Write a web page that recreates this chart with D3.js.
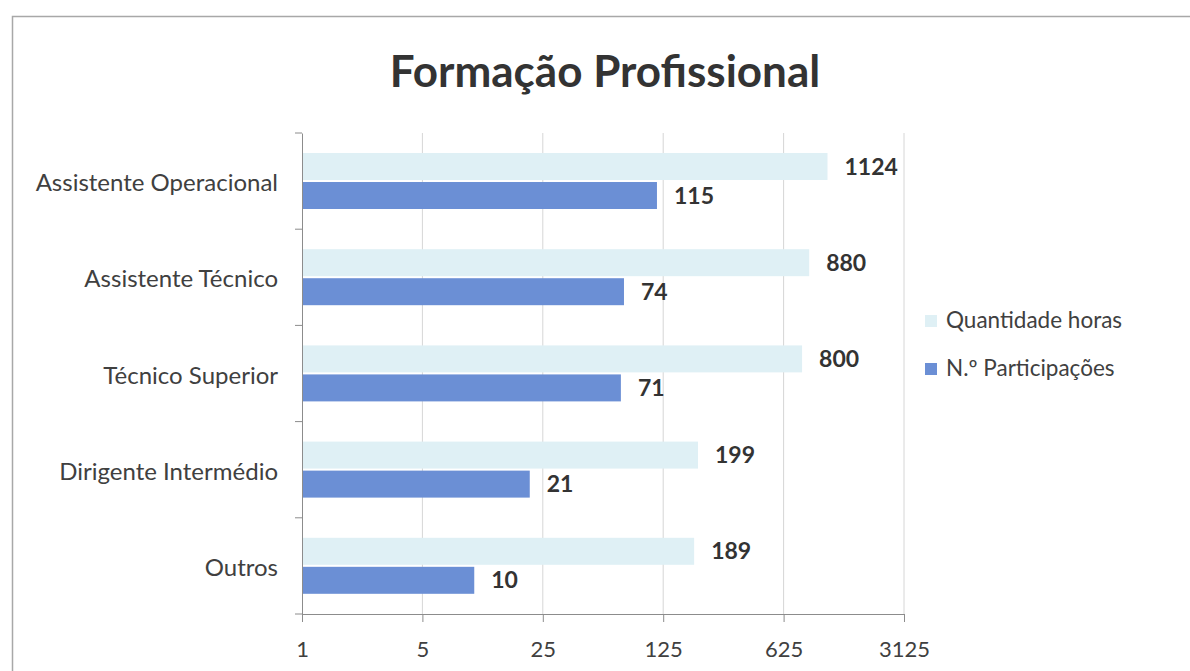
<!DOCTYPE html>
<html>
<head>
<meta charset="utf-8">
<script src="https://cdn.jsdelivr.net/npm/d3@7.9.0/dist/d3.min.js"></script>
<style>
  body { margin: 0; background: #fff; }
  svg { display: block; font-family: Lato, "Open Sans", sans-serif; }
</style>
</head>
<body>
<div id="chart"></div>
<script>
// ---------- Data ----------
const categories = ['Assistente Operacional', 'Assistente Técnico', 'Técnico Superior', 'Dirigente Intermédio', 'Outros'];
const horas = [1124, 880, 800, 199, 189];
const participacoes = [115, 74, 71, 21, 10];
const tickValues = [1, 5, 25, 125, 625, 3125];
const seriesNames = ['Quantidade horas', 'N.º Participações'];

const width = 1190, height = 671;
const plot = { left: 302, right: 904, top: 133, bottom: 614 };
const colors = { horas: '#dff0f5', part: '#6b8fd5' };
const textColor = '#404040';

const svg = d3.select('#chart').append('svg')
  .attr('width', width)
  .attr('height', height);

// frame
svg.append('rect')
  .attr('x', 12.5).attr('y', 16.5)
  .attr('width', width + 20).attr('height', height + 20)
  .attr('fill', 'none').attr('stroke', '#a8a8a8').attr('stroke-width', 1.5);

// title
svg.append('text')
  .attr('x', 605).attr('y', 87)
  .attr('text-anchor', 'middle')
  .attr('font-size', 44).attr('font-weight', 'bold')
  .attr('fill', '#333')
  .text('Formação Profissional');

// ---------- Scales ----------
const x = d3.scaleLog().base(5)
  .domain([1, 3125])
  .range([plot.left, plot.right]);

const y = d3.scaleBand()
  .domain(categories)
  .range([plot.top, plot.bottom]);

const inner = d3.scaleBand()
  .domain(['horas', 'part'])
  .range([20, 76])
  .paddingInner(0.07);

// gridlines
svg.append('g')
  .selectAll('line')
  .data(tickValues.slice(1))
  .join('line')
  .attr('x1', d => x(d)).attr('x2', d => x(d))
  .attr('y1', plot.top).attr('y2', plot.bottom)
  .attr('stroke', '#d6d6d6').attr('stroke-width', 1);

// bars
const rows = categories.map((c, i) => ({ cat: c, horas: horas[i], part: participacoes[i] }));
const barData = rows.flatMap(r => [
  { cat: r.cat, key: 'horas', v: r.horas },
  { cat: r.cat, key: 'part', v: r.part }
]);
const g = svg.append('g');

g.selectAll('rect')
  .data(barData)
  .join('rect')
  .attr('x', x(1))
  .attr('y', d => y(d.cat) + inner(d.key))
  .attr('width', d => x(d.v) - x(1))
  .attr('height', inner.bandwidth())
  .attr('fill', d => colors[d.key]);

// value labels
g.selectAll('text')
  .data(barData)
  .join('text')
  .attr('x', d => x(d.v) + 17)
  .attr('y', d => y(d.cat) + inner(d.key) + inner.bandwidth() / 2)
  .attr('dy', '0.35em')
  .attr('font-size', 23).attr('font-weight', 'bold')
  .attr('fill', '#333')
  .text(d => d.v);

// x axis
const xAxis = svg.append('g')
  .attr('transform', `translate(0,${plot.bottom})`)
  .call(d3.axisBottom(x).tickValues(tickValues).tickFormat(d3.format('d')).tickSize(8).tickPadding(19));
xAxis.select('.domain').attr('stroke', '#8c8c8c');
xAxis.selectAll('.tick line').attr('stroke', '#8c8c8c');
xAxis.selectAll('.tick text')
  .attr('font-size', 22).attr('fill', textColor)
  .attr('font-family', 'Lato, "Open Sans", sans-serif');

// y axis
const yAxis = svg.append('g')
  .attr('transform', `translate(${plot.left},0)`)
  .call(d3.axisLeft(y).tickSize(0).tickPadding(24));
yAxis.select('.domain').attr('stroke', '#8c8c8c');
yAxis.selectAll('.tick text')
  .attr('font-size', 24).attr('fill', textColor)
  .attr('dy', '0.42em')
  .attr('font-family', 'Lato, "Open Sans", sans-serif');

// category boundary ticks
const bounds = categories.map(c => y(c)).concat([plot.bottom]);
svg.append('g')
  .selectAll('line')
  .data(bounds)
  .join('line')
  .attr('x1', plot.left - 7).attr('x2', plot.left)
  .attr('y1', d => d).attr('y2', d => d)
  .attr('stroke', '#8c8c8c');

// legend
const legend = svg.append('g').attr('transform', 'translate(925,320)');
legend.selectAll('g')
  .data(seriesNames)
  .join('g')
  .attr('transform', (d, i) => `translate(0,${i * 48})`)
  .call(s => {
    s.append('rect')
      .attr('x', 0).attr('y', -5).attr('width', 12).attr('height', 12)
      .attr('fill', (d, i) => i === 0 ? colors.horas : colors.part);
    s.append('text')
      .attr('x', 21).attr('y', 0)
      .attr('dy', '0.35em')
      .attr('font-size', 22.5).attr('fill', textColor)
      .text(d => d);
  });
</script>
</body>
</html>
